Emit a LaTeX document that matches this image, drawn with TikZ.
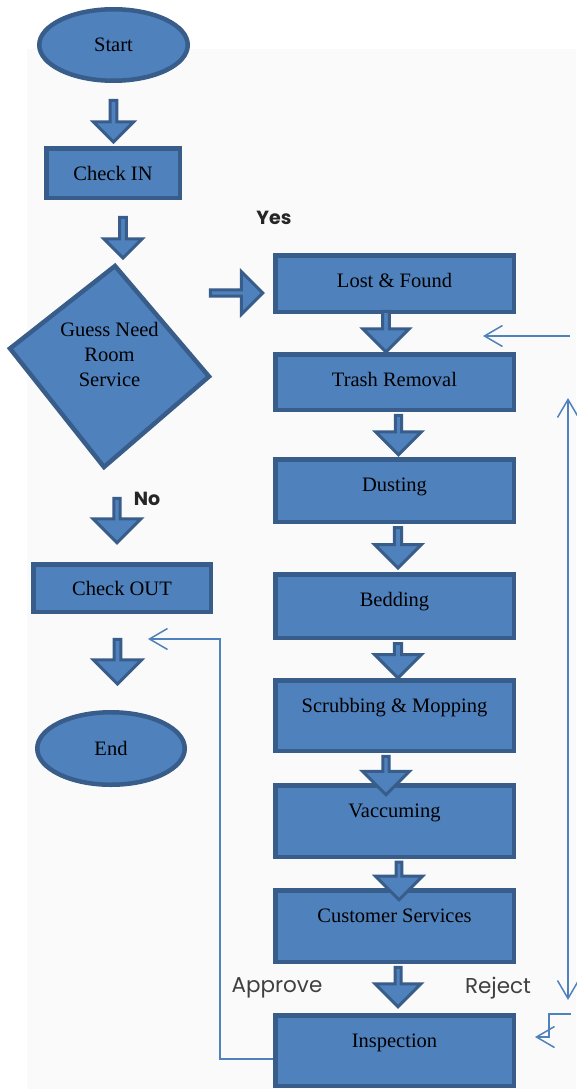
\documentclass[tikz,border=0pt]{standalone}
\usepackage{fontspec}
\setmainfont{Liberation Serif}
\newfontfamily\labelfont{Poppins}
\usetikzlibrary{shapes.geometric,shapes.arrows,arrows.meta}
\definecolor{boxfill}{HTML}{4F81BD}
\definecolor{boxline}{HTML}{385D8A}
\definecolor{bgfill}{HTML}{FAFAFA}
\definecolor{labeltext}{HTML}{404040}
\definecolor{yesno}{HTML}{262626}
\tikzset{
  taskbox/.style={draw=boxline,fill=boxfill,line width=4.5pt,minimum width=238.5pt,inner sep=0pt,text height=32pt,text depth=#1},
  flowbox/.style={draw=boxline,fill=boxfill,line width=4.5pt,inner sep=0pt},
  endbox/.style={ellipse,draw=boxline,fill=boxfill,line width=4.5pt,inner sep=0pt,minimum width=148.5pt,minimum height=71.5pt},
  blockarrow/.style={single arrow,draw=boxline,fill=boxfill,line width=3pt,inner sep=0pt,single arrow head indent=0pt},
  downarrow/.style={blockarrow,rotate=-90},
  flowline/.style={draw=boxfill,line width=1.5pt},
  branch/.style={font=\labelfont\fontsize{19}{22}\selectfont\bfseries,text=yesno},
  verdict/.style={font=\labelfont\fontsize{21.5}{24}\selectfont,text=labeltext}
}
\begin{document}
\begin{tikzpicture}[x=1pt,y=-1pt,font=\fontsize{20.5}{25}\selectfont,>={Straight Barb[length=18pt,width=21pt]}]
\useasboundingbox (0,0) rectangle (576,1089);
\fill[bgfill] (27,49) rectangle (576,1089);

\coordinate (backtip) at (148,639);
\coordinate (loopin) at (570,336);
\coordinate (loopout) at (483,336);
\coordinate (looptop) at (568,398);
\coordinate (loopbot) at (568,1000);
\coordinate (rejstart) at (571,1014);

\node[taskbox=38.5pt] (insp) at (394.5,1050.5) {Inspection};
\draw[flowline,->] ([yshift=-8.5pt]insp.west) -| (220,639) -- (backtip);
\draw[flowline,->] (loopin) -- (loopout);
\draw[flowline,<->] (looptop) -- (loopbot);
\draw[flowline,->] (rejstart) -| (549,1037) -- ([xshift=19pt,yshift=13.5pt]insp.east);

\node[endbox] (start) at (113.5,45) {Start};
\node[flowbox,minimum width=133.5pt,minimum height=49.5pt] (checkin) at (113,173) {Check IN};
\draw[draw=boxline,fill=boxfill,line width=4.5pt] (115,266) -- (209,376.5) -- (104,467) -- (10,348.5) -- cycle;
\node[align=center] (guess) at (109.5,354) {Guess Need\\Room\\Service};
\node[flowbox,minimum width=177.5pt,minimum height=47.5pt] (checkout) at (122,588) {Check OUT};
\node[endbox,minimum width=147.5pt,minimum height=72.5pt] (end) at (111,748.5) {End};

\node[taskbox=24.5pt] (lost) at (394.5,283.5) {Lost \& Found};
\node[taskbox=23.5pt] (trash) at (394.5,382) {Trash Removal};
\node[taskbox=30.5pt] (dust) at (394.5,490.5) {Dusting};
\node[taskbox=31.5pt] (bed) at (394.5,606) {Bedding};
\node[taskbox=38.5pt] (scrub) at (394.5,715.5) {Scrubbing \& Mopping};
\node[taskbox=39.5pt] (vac) at (394.5,821) {Vaccuming};
\node[taskbox=39.5pt] (cust) at (394.5,926) {Customer Services};

\node[downarrow,minimum height=41.5pt,minimum width=40pt,single arrow head extend=7.5pt] (a1) at (113.5,119.5) {};
\node[downarrow,minimum height=40.5pt,minimum width=38pt,single arrow head extend=7pt] (a2) at (123,236) {};
\node[downarrow,minimum height=44.5pt,minimum width=48pt,single arrow head extend=10pt] (a3) at (117,519) {};
\node[downarrow,minimum height=44.5pt,minimum width=48pt,single arrow head extend=9.5pt] (a4) at (117.5,660) {};
\node[blockarrow,minimum height=52.5pt,minimum width=43pt,single arrow head extend=9pt] (ayes) at (235,293) {};
\node[downarrow,minimum height=40.5pt,minimum width=46pt,single arrow head extend=9pt] (a5) at (386,330) {};
\node[downarrow,minimum height=39.5pt,minimum width=46pt,single arrow head extend=9.5pt] (a6) at (398.5,433.5) {};
\node[downarrow,minimum height=40.5pt,minimum width=47pt,single arrow head extend=8.5pt] (a7) at (398,546) {};
\node[downarrow,minimum height=34.5pt,minimum width=47pt,single arrow head extend=8.5pt] (a8) at (398,659) {};
\node[downarrow,minimum height=38.5pt,minimum width=47pt,single arrow head extend=9.5pt] (a9) at (386,774) {};
\node[downarrow,minimum height=37.5pt,minimum width=47pt,single arrow head extend=10.5pt] (a10) at (399,879.5) {};
\node[downarrow,minimum height=39.5pt,minimum width=46pt,single arrow head extend=10pt] (a11) at (398,985.5) {};

\node[branch] (yes) at (274,218) {Yes};
\node[branch] (no) at (147,499) {No};
\node[verdict] (approve) at (277,988) {Approve};
\node[verdict] (reject) at (498,988) {Reject};
\end{tikzpicture}
\end{document}
